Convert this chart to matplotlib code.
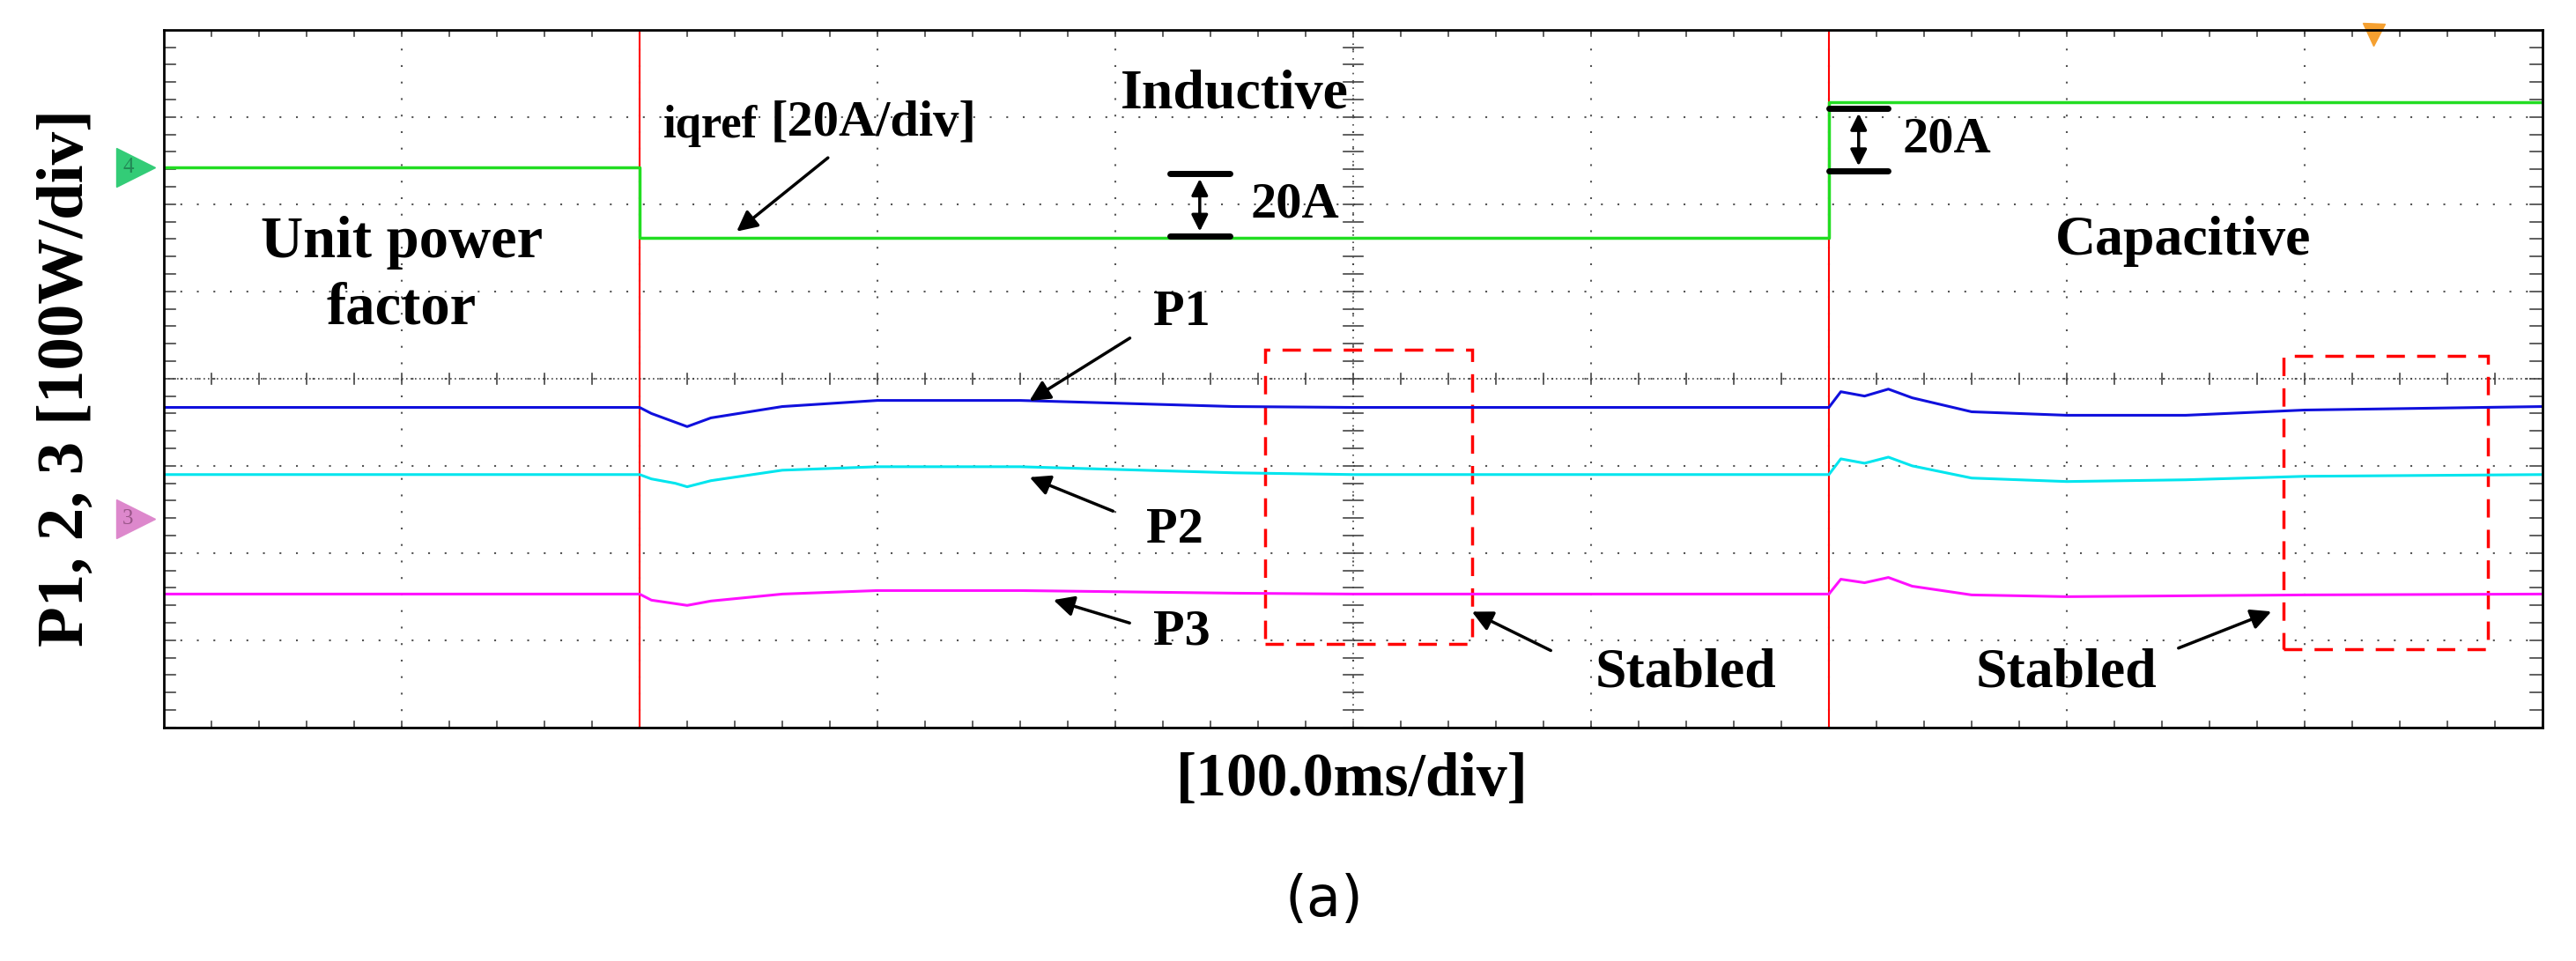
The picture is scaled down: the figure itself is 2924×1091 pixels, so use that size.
import matplotlib.pyplot as plt
from matplotlib.patches import Rectangle

plt.rcParams['font.family'] = ['Liberation Serif', 'DejaVu Serif']

# time in divisions (100 ms/div), amplitudes in screen divisions
t_green = [0, 2, 2, 7, 7, 10]
iqref = [6.42, 6.42, 5.61, 5.61, 7.17, 7.17]

t_p = [0, 2.0, 2.05, 2.15, 2.2, 2.3, 2.6, 3.0, 3.6, 4.5, 5.0, 7.0, 7.05, 7.15, 7.25, 7.35, 7.6, 8.0, 8.5, 9.0, 10]
p1 = [3.67, 3.67, 3.60, 3.50, 3.45, 3.55, 3.68, 3.75, 3.75, 3.68, 3.67, 3.67, 3.85, 3.80, 3.88, 3.78, 3.62, 3.58, 3.58, 3.64, 3.68]
p2 = [2.90, 2.90, 2.85, 2.80, 2.76, 2.83, 2.95, 2.99, 2.99, 2.92, 2.90, 2.90, 3.08, 3.03, 3.10, 3.00, 2.86, 2.82, 2.84, 2.88, 2.90]
p3 = [1.53, 1.53, 1.46, 1.42, 1.40, 1.45, 1.53, 1.57, 1.57, 1.54, 1.53, 1.53, 1.70, 1.66, 1.72, 1.62, 1.52, 1.50, 1.51, 1.52, 1.53]

fig = plt.figure(figsize=(29.24, 10.91), dpi=100)
ax = fig.add_axes([0.0636, 0.243, 0.9234, 0.726])
ax.set_xlim(0, 10)
ax.set_ylim(0, 8)
ax.set_xticks([])
ax.set_yticks([])
for s in ax.spines.values():
    s.set_linewidth(2)

# scope graticule
for i in range(1, 10):
    ax.axvline(i, color='#555555', lw=1.5, ls=(0, (1, 8)), zorder=0)
for j in range(1, 8):
    ax.axhline(j, color='#555555', lw=1.5, ls=(0, (1, 8)), zorder=0)
ax.axhline(4, color='#444444', lw=1.2, ls=(0, (1, 2)), zorder=0)
ax.axvline(5, color='#444444', lw=1.2, ls=(0, (1, 4)), zorder=0)
for k in range(51):
    x = k * 0.2
    for y0, y1 in [(0, 0.07), (7.93, 8), (3.94, 4.06)]:
        ax.plot([x, x], [y0, y1], color='#444444', lw=1.2)
for k in range(41):
    y = k * 0.2
    for x0, x1 in [(0, 0.05), (9.95, 10), (4.96, 5.04)]:
        ax.plot([x0, x1], [y, y], color='#444444', lw=1.2)

ax.axvline(2, color='red', lw=1.5)
ax.axvline(7, color='red', lw=1.5)

ax.plot(t_green, iqref, color='#22dd22', lw=2.5)
ax.plot(t_p, p1, color='#1010dd', lw=2.2)
ax.plot(t_p, p2, color='#00e5ee', lw=2.2)
ax.plot(t_p, p3, color='#ff10ff', lw=2.2)

# channel markers
ax.plot(-0.12, 6.42, marker='>', ms=32, color='#33cc77', clip_on=False)
ax.text(-0.15, 6.42, '4', fontsize=18, color='#228855', ha='center', va='center', clip_on=False)
ax.plot(-0.12, 2.39, marker='>', ms=32, color='#dd88cc', clip_on=False)
ax.text(-0.15, 2.39, '3', fontsize=18, color='#995588', ha='center', va='center', clip_on=False)
ax.plot(9.29, 7.95, marker='v', ms=18, color='#f5a030', clip_on=False)

# dashed boxes
for (x0, x1, y0, y1) in [(4.63, 5.50, 0.96, 4.33), (8.91, 9.77, 0.90, 4.26)]:
    ax.add_patch(Rectangle((x0, y0), x1 - x0, y1 - y0, fill=False, ec='red', lw=2.5, ls=(0, (6, 4))))

bold = dict(fontweight='bold', color='black')
ax.text(1.0, 5.18, 'Unit power\nfactor', fontsize=48, ha='center', va='center', linespacing=1.3, **bold)
ax.text(4.5, 7.25, 'Inductive', fontsize=46, ha='center', va='center', **bold)
ax.text(2.1, 6.90, 'iqref', fontsize=38, ha='left', va='center', **bold)
ax.text(2.55, 6.93, '[20A/div]', fontsize=42, ha='left', va='center', **bold)
ax.text(8.49, 5.57, 'Capacitive', fontsize=46, ha='center', va='center', **bold)
ax.text(4.28, 4.76, 'P1', fontsize=42, ha='center', va='center', **bold)
ax.text(4.25, 2.26, 'P2', fontsize=42, ha='center', va='center', **bold)
ax.text(4.28, 1.09, 'P3', fontsize=42, ha='center', va='center', **bold)
ax.text(6.40, 0.62, 'Stabled', fontsize=46, ha='center', va='center', **bold)
ax.text(8.0, 0.62, 'Stabled', fontsize=46, ha='center', va='center', **bold)

arr = dict(arrowstyle='-|>', color='black', lw=2.5, mutation_scale=35)
for tail, head in [((2.8, 6.55), (2.4, 5.67)), ((4.07, 4.48), (3.63, 3.73)),
                   ((4.0, 2.47), (3.63, 2.88)), ((4.07, 1.19), (3.73, 1.47)),
                   ((5.84, 0.87), (5.49, 1.34)), ((8.46, 0.90), (8.87, 1.34))]:
    ax.annotate('', xy=head, xytext=tail, arrowprops=arr)

# 20 A scale markers
for xa, xb, ylo, yhi, tx in [(4.23, 4.48, 5.63, 6.35, 4.57), (7.0, 7.25, 6.38, 7.10, 7.31)]:
    ax.plot([xa, xb], [yhi, yhi], color='black', lw=5, solid_capstyle='round')
    ax.plot([xa, xb], [ylo, ylo], color='black', lw=5, solid_capstyle='round')
    xm = (xa + xb) / 2
    ax.annotate('', xy=(xm, yhi - 0.03), xytext=(xm, ylo + 0.03),
                arrowprops=dict(arrowstyle='<|-|>', color='black', lw=2.5, mutation_scale=28))
    ax.text(tx, (ylo + yhi) / 2, '20A', fontsize=42, ha='left', va='center', **bold)

fig.text(0.026, 0.607, 'P1, 2, 3 [100W/div]', rotation=90, fontsize=54, fontweight='bold', ha='center', va='center')
fig.text(0.525, 0.188, '[100.0ms/div]', fontsize=50, fontweight='bold', ha='center', va='center')
fig.text(0.514, 0.063, '(a)', fontsize=46, ha='center', va='center', family=['DejaVu Sans'])

fig.savefig('out.png', dpi=100, facecolor='white')
